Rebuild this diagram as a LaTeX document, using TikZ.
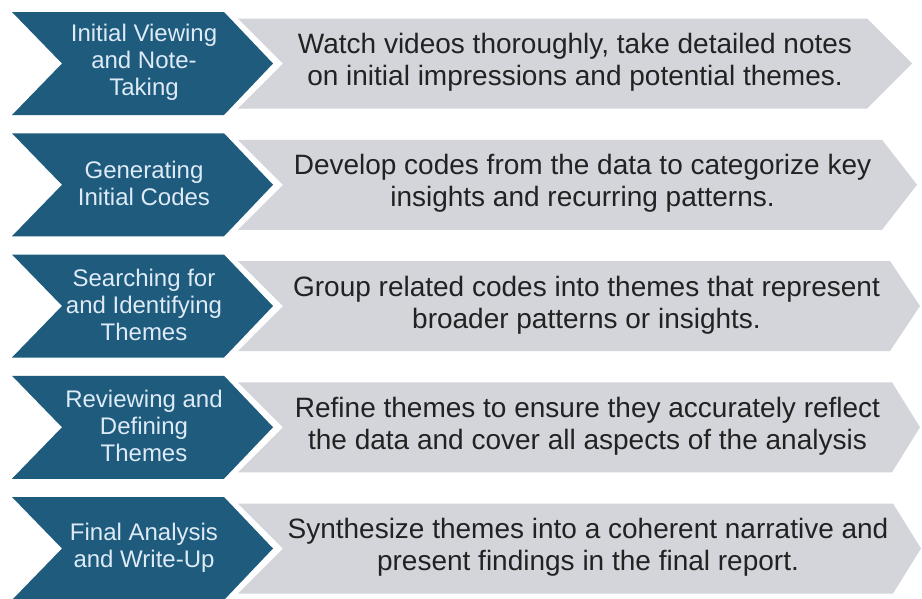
\documentclass[tikz,border=0pt]{standalone}
\usepackage{fontspec}
\setmainfont{Liberation Sans}
\definecolor{stepblue}{RGB}{30,91,125}
\definecolor{steplabel}{RGB}{222,235,247}
\definecolor{descgray}{RGB}{211,213,219}
\definecolor{desctext}{RGB}{34,34,34}
\tikzset{
  stepshape/.style={fill=stepblue, draw=none},
  descshape/.style={fill=descgray, draw=none},
  steptext/.style={text=steplabel, align=center, font=\fontsize{24}{27}\selectfont, inner sep=0pt},
  desctextstyle/.style={text=desctext, align=center, font=\fontsize{28}{32}\selectfont, inner sep=0pt},
}
% #1 row id, #2 top edge, #3 right corner of the grey band, #4 its tip,
% #5 step title, #6 description
\newcommand{\chevronrow}[6]{%
  \fill[stepshape] (12,#2) -- (224,#2) -- (273,#2+51.5) -- (224,#2+103)
    -- (12,#2+103) -- (62,#2+51.5) -- cycle;
  \fill[descshape] (238,#2+6.5) -- (#3,#2+6.5) -- (#4,#2+51.5) -- (#3,#2+96.5)
    -- (238,#2+96.5) -- (283,#2+51.5) -- cycle;
  \node[steptext] (title#1) at (144,#2+50.5) {#5};
  \node[desctextstyle] (desc#1) at ({(283+#3)/2},#2+50.5) {#6};
}
\begin{document}
\begin{tikzpicture}[x=1pt,y=-1pt]
\useasboundingbox (0,0) rectangle (922,598);
\fill[white] (0,0) rectangle (922,598);
\begin{scope}
\clip (0,0) rectangle (922,598);
\chevronrow{1}{12}{867}{912}{Initial Viewing\\and Note-\\Taking}
  {Watch videos thoroughly, take detailed notes\\on initial impressions and potential themes.}
\chevronrow{2}{133.25}{882}{917}{Generating\\Initial Codes}
  {Develop codes from the data to categorize key\\insights and recurring patterns.}
\chevronrow{3}{254.5}{890}{920}{Searching for\\and Identifying\\Themes}
  {Group related codes into themes that represent\\broader patterns or insights.}
\chevronrow{4}{375.75}{892}{920}{Reviewing and\\Defining\\Themes}
  {Refine themes to ensure they accurately reflect\\the data and cover all aspects of the analysis}
\chevronrow{5}{497}{893}{921}{Final Analysis\\and Write-Up}
  {Synthesize themes into a coherent narrative and\\present findings in the final report.}
\end{scope}
\end{tikzpicture}
\end{document}
